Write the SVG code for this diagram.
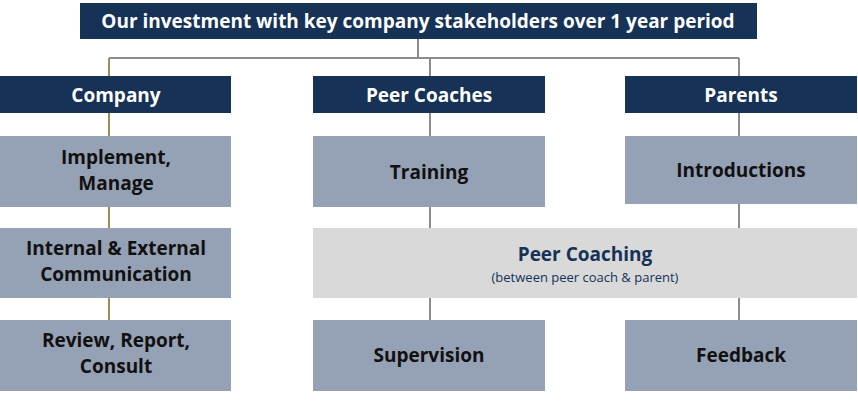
<svg xmlns="http://www.w3.org/2000/svg" width="858" height="414" viewBox="0 0 858 414">
<style>
.hd{fill:#163257}
.bx{fill:#95a1b4}
.lt{fill:#d9d9d9}
text{font-family:"Open Sans","Liberation Sans",sans-serif;font-weight:bold;text-anchor:middle}
.w{fill:#fff;font-size:19px}
.k{fill:#111;font-size:19px}
.ln{stroke:#8c8c8c;stroke-width:2;fill:none}
.ol{stroke:#9c8e55;stroke-width:2;fill:none}
</style>
<g id="connectors">
<path class="ln" d="M418 39V58M109 58H739M430 58V320M739 58V320"/>
<path class="ol" d="M109 58V320"/>
</g>
<g id="title"><rect class="hd" x="80" y="3" width="677" height="36"/><text class="w" x="418" y="28">Our investment with key company stakeholders over 1 year period</text></g>
<g id="company"><rect class="hd" x="0" y="76" width="231" height="37"/><text class="w" x="116" y="102">Company</text></g>
<g id="peercoaches"><rect class="hd" x="313" y="76" width="232" height="37"/><text class="w" x="429" y="102">Peer Coaches</text></g>
<g id="parents"><rect class="hd" x="625" y="76" width="232" height="37"/><text class="w" x="741" y="102">Parents</text></g>
<g id="implement"><rect class="bx" x="0" y="136" width="231" height="71"/><text class="k" x="116" y="164">Implement,</text><text class="k" x="116" y="190">Manage</text></g>
<g id="communication"><rect class="bx" x="0" y="228" width="231" height="70"/><text class="k" x="116" y="255">Internal &amp; External</text><text class="k" x="116" y="281">Communication</text></g>
<g id="review"><rect class="bx" x="0" y="320" width="231" height="71"/><text class="k" x="116" y="347">Review, Report,</text><text class="k" x="116" y="373">Consult</text></g>
<g id="training"><rect class="bx" x="313" y="136" width="232" height="71"/><text class="k" x="429" y="179">Training</text></g>
<g id="introductions"><rect class="bx" x="625" y="136" width="232" height="68"/><text class="k" x="741" y="177">Introductions</text></g>
<g id="peercoaching"><rect class="lt" x="313" y="228" width="544" height="70"/><text x="585" y="261" style="fill:#163257;font-size:19px">Peer Coaching</text><text x="585" y="282" style="fill:#163257;font-size:13px;font-weight:normal">(between peer coach &amp; parent)</text></g>
<g id="supervision"><rect class="bx" x="313" y="320" width="232" height="71"/><text class="k" x="429" y="362">Supervision</text></g>
<g id="feedback"><rect class="bx" x="625" y="320" width="232" height="71"/><text class="k" x="741" y="362">Feedback</text></g>
</svg>
